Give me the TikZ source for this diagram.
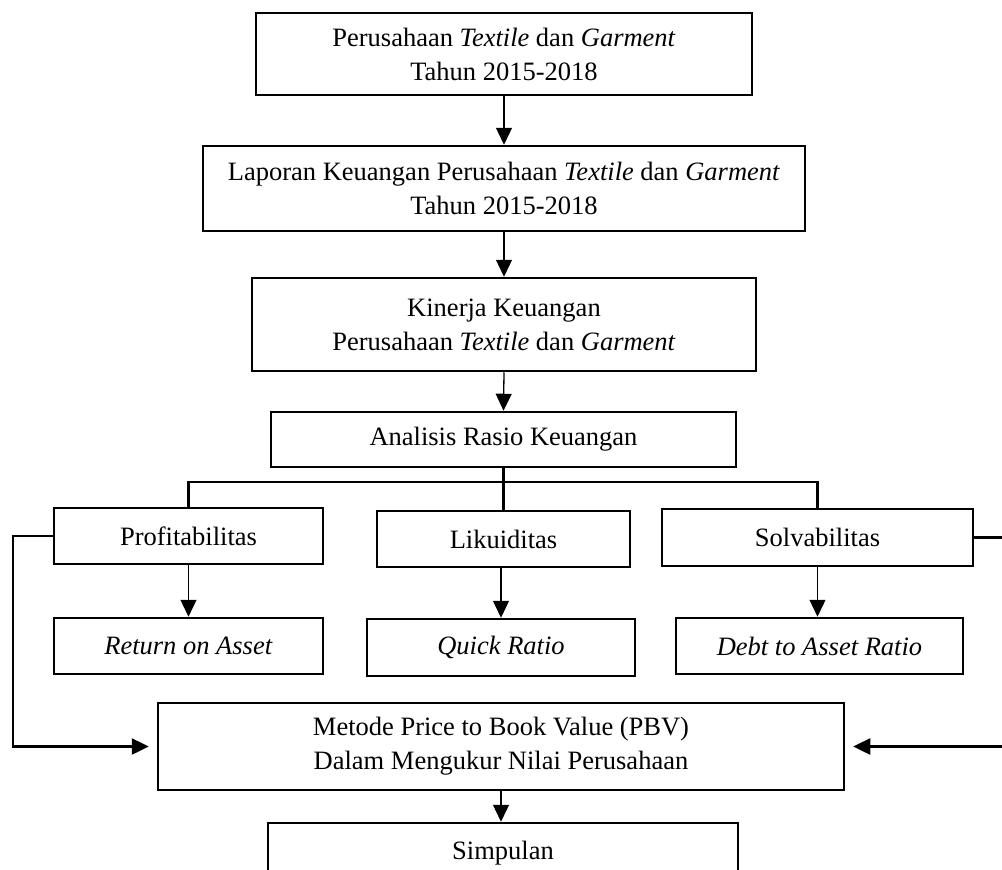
\documentclass[tikz,border=0pt]{standalone}
\usepackage{fontspec}
\setmainfont{Liberation Serif}
\usetikzlibrary{arrows.meta}
\begin{document}
\begin{tikzpicture}[x=1pt,y=-1pt,
  box/.style={draw, line width=2.5pt, align=center, inner sep=0pt, font=\fontsize{26.5}{34}\selectfont},
  arr/.style={line width=1.3pt, -{Triangle[width=16pt,length=17pt]}},
  conn/.style={line width=2.5pt},
  connarr/.style={line width=2.5pt, -{Triangle[width=16pt,length=17pt]}, shorten >=8pt},
  ]
\useasboundingbox (0,0) rectangle (1002,870);
\node[box, minimum width=496pt, minimum height=82pt] (top) at (504,54) {Perusahaan \textit{Textile} dan \textit{Garment}\\Tahun 2015-2018};
\node[box, minimum width=602pt, minimum height=85pt] (lap) at (504,188.5) {Laporan Keuangan Perusahaan \textit{Textile} dan \textit{Garment}\\Tahun 2015-2018};
\node[box, minimum width=504pt, minimum height=93pt] (kin) at (504,324.5) {Kinerja Keuangan\\Perusahaan \textit{Textile} dan \textit{Garment}};
\node[box, minimum width=465pt, minimum height=55pt] (ana) at (503.5,439.5) {Analisis Rasio Keuangan};
\node[box, minimum width=269pt, minimum height=56pt] (prof) at (188.5,536) {Profitabilitas};
\node[box, minimum width=253pt, minimum height=56pt] (lik) at (503.5,539) {Likuiditas};
\node[box, minimum width=311pt, minimum height=57pt] (solv) at (817.5,537.5) {Solvabilitas};
\node[box, minimum width=269pt, minimum height=56pt] (roa) at (188.5,646) {\textit{Return on Asset}};
\node[box, minimum width=268pt, minimum height=57pt] (qr) at (501,647.5) {\textit{Quick Ratio}};
\node[box, minimum width=287pt, minimum height=56pt] (dar) at (819.5,646) {\textit{Debt to Asset Ratio}};
\node[box, minimum width=686pt, minimum height=87pt] (met) at (501,746.5) {Metode Price to Book Value (PBV)\\Dalam Mengukur Nilai Perusahaan};
\node[box, minimum width=470pt, minimum height=60pt] (sim) at (503,853) {Simpulan};
\coordinate (bus) at (0,482);
\coordinate (L) at (13,0);
\coordinate (R) at (1004,0);
\draw[arr] (top.south) -- (lap.north);
\draw[arr] (lap.south) -- (kin.north);
\draw[arr] (kin.south) -- (ana.north);
\draw[conn] (ana.south) -- (lik.north);
\draw[conn] (prof.north) -- (prof.north |- bus) -- (solv.north |- bus) -- (solv.north);
\draw[arr] (prof.south) -- (roa.north);
\draw[arr] (qr.north |- lik.south) -- (qr.north);
\draw[arr] (solv.south) -- (solv.south |- dar.north);
\draw[arr] (met.south) -- (met.south |- sim.north);
\draw[connarr] (prof.west) -- (prof.west -| L) -- (L |- met.west) -- (met.west);
\draw[connarr] (solv.east) -- (solv.east -| R) -- (R |- met.east) -- (met.east);
\end{tikzpicture}
\end{document}
